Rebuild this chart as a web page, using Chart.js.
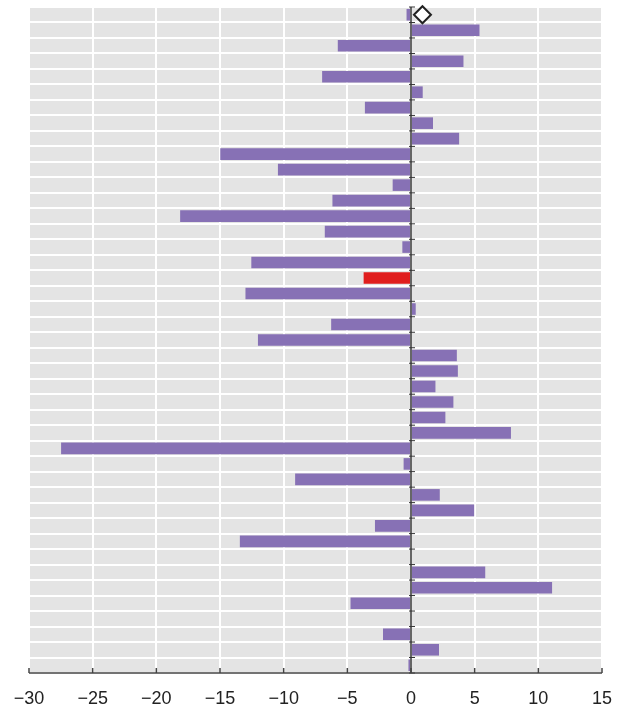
<!DOCTYPE html>
<html>
<head>
<meta charset="utf-8">
<script src="https://cdn.jsdelivr.net/npm/chart.js@4.4.0/dist/chart.umd.min.js"></script>
<style>
  html, body { margin: 0; padding: 0; background: #fff; }
  #wrap { width: 619px; height: 710px; position: relative; }
</style>
</head>
<body>
<div id="wrap"><canvas id="grafico"></canvas></div>
<script>
// linhas do gráfico, de cima para baixo
const categorias = ['1', '2', '3', '4', '5', '6', '7', '8', '9', '10', '11', '12', '13', '14', '15',
  '16', '17', '18', '19', '20', '21', '22', '23', '24', '25', '26', '27', '28', '29', '30',
  '31', '32', '33', '34', '35', '36', '37', '38', '39', '40', '41', '42', '43'];

const valores = [-0.35, 5.38, -5.75, 4.12, -6.98, 0.92, -3.62, 1.73, 3.78, -14.98,
  -10.45, -1.44, -6.17, -18.13, -6.77, -0.68, -12.54, -3.72, -13.0, 0.37,
  -6.27, -12.02, 3.6, 3.68, 1.92, 3.33, 2.7, 7.85, -27.48, -0.58,
  -9.1, 2.26, 4.96, -2.83, -13.44, null, 5.83, 11.08, -4.75, null,
  -2.2, 2.2, -0.2];

// linha destacada em vermelho
const destaque = ['18'];

// losango na primeira linha
const marcadorLinha = ['1'];
const marcadorValor = [0.9];

const eixoX = { min: -30, max: 15, passo: 5 };

const roxo = '#8771b5';
const vermelho = '#e01e1e';

const cores = categorias.map(c => destaque.includes(c) ? vermelho : roxo);

// fundo cinza + linha do zero + marcas do eixo
const decoracao = {
  id: 'decoracao',
  beforeDraw(chart) {
    const { ctx, chartArea: a } = chart;
    ctx.save();
    ctx.fillStyle = '#e4e4e4';
    ctx.fillRect(a.left, a.top, a.right - a.left, a.bottom - a.top);
    ctx.restore();
  },
  afterDatasetsDraw(chart) {
    const { ctx, chartArea: a, scales } = chart;
    const x0 = scales.x.getPixelForValue(0);
    ctx.save();
    ctx.strokeStyle = '#333';
    ctx.lineWidth = 1.5;
    ctx.beginPath();
    ctx.moveTo(x0, a.top);
    ctx.lineTo(x0, a.bottom);
    ctx.stroke();
    ctx.lineWidth = 1;
    for (let i = 0; i <= categorias.length; i++) {
      const y = scales.y.getPixelForValue(i - 0.5);
      ctx.beginPath();
      ctx.moveTo(x0 - 2, y);
      ctx.lineTo(x0 + 4, y);
      ctx.stroke();
    }
    // eixo de baixo com marcas para cima
    ctx.strokeStyle = '#444';
    ctx.lineWidth = 1.5;
    ctx.beginPath();
    ctx.moveTo(a.left, a.bottom);
    ctx.lineTo(a.right, a.bottom);
    ctx.stroke();
    for (let v = eixoX.min; v <= eixoX.max; v += eixoX.passo) {
      const x = scales.x.getPixelForValue(v);
      ctx.beginPath();
      ctx.moveTo(x, a.bottom);
      ctx.lineTo(x, a.bottom - 5);
      ctx.stroke();
    }
    ctx.restore();
  }
};

new Chart(document.getElementById('grafico'), {
  type: 'bar',
  data: {
    labels: categorias,
    datasets: [{
      label: 'valor',
      data: valores,
      backgroundColor: cores,
      borderWidth: 0,
      barPercentage: 0.75,
      categoryPercentage: 1,
      order: 2
    }, {
      type: 'scatter',
      label: 'marcador',
      data: marcadorLinha.map((l, i) => ({ x: marcadorValor[i], y: l })),
      pointStyle: 'rectRot',
      pointRadius: 8.5,
      pointHoverRadius: 8.5,
      backgroundColor: '#fff',
      borderColor: '#222',
      borderWidth: 2,
      order: 1
    }]
  },
  options: {
    indexAxis: 'y',
    responsive: true,
    maintainAspectRatio: false,
    animation: false,
    layout: { autoPadding: false, padding: { left: 29, right: 17, top: 7, bottom: 0 } },
    plugins: {
      legend: { display: false },
      tooltip: { enabled: false },
      title: { display: false }
    },
    scales: {
      x: {
        type: 'linear',
        min: eixoX.min,
        max: eixoX.max,
        afterFit: s => { s.height = 37; s.paddingLeft = 0; s.paddingRight = 0; },
        ticks: {
          stepSize: eixoX.passo,
          padding: 15,
          color: '#222',
          font: { family: 'Liberation Sans, Arial, sans-serif', size: 18 },
          callback: v => String(v).replace('-', '\u2212')
        },
        grid: { color: '#fff', lineWidth: 2, drawTicks: false },
        border: { display: false }
      },
      y: {
        type: 'category',
        offset: true,
        ticks: { display: false },
        grid: { color: '#fff', lineWidth: 2, drawTicks: false, offset: true },
        border: { display: false }
      }
    }
  },
  plugins: [decoracao]
});
</script>
</body>
</html>
